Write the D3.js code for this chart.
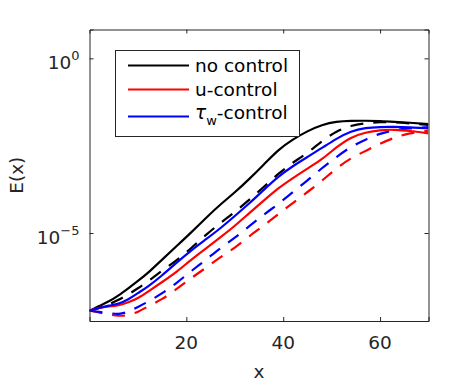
<!DOCTYPE html>
<html>
<head>
<meta charset="utf-8">
<script src="https://cdn.jsdelivr.net/npm/d3@7"></script>
<style>
  body { margin: 0; background: #fff; }
  text { font-family: "DejaVu Sans", sans-serif; }
</style>
</head>
<body>
<div id="chart"></div>
<script>
// x positions shared by every curve
const xs = [0, 2, 4, 6, 8, 10, 12, 15, 18, 21, 24, 27, 30, 33, 36, 39, 42, 45, 48, 51, 54, 57, 60, 63, 66, 70];

// log10 E(x)
const noControl = [-7.233, -7.090, -6.961, -6.789, -6.583, -6.374, -6.160, -5.759, -5.372, -4.986, -4.571, -4.184, -3.841,
  -3.454, -3.039, -2.610, -2.318, -2.080, -1.902, -1.808, -1.788, -1.785, -1.794, -1.817, -1.842, -1.880];
const noControlDash = [-7.233, -7.147, -7.047, -6.918, -6.761, -6.583, -6.394, -6.074, -5.782, -5.435, -5.057, -4.714, -4.407,
  -4.041, -3.683, -3.297, -2.982, -2.710, -2.366, -2.080, -1.922, -1.851, -1.822, -1.831, -1.859, -1.908];
const uControl = [-7.219, -7.133, -7.104, -7.076, -6.990, -6.870, -6.689, -6.403, -6.117, -5.759, -5.444, -5.129, -4.800,
  -4.427, -4.070, -3.712, -3.425, -3.153, -2.896, -2.538, -2.252, -2.117, -2.051, -2.037, -2.074, -2.146];
const uControlDash = [-7.219, -7.276, -7.333, -7.376, -7.362, -7.262, -7.104, -6.904, -6.603, -6.288, -6.002, -5.687, -5.430,
  -5.086, -4.785, -4.456, -4.141, -3.826, -3.511, -3.139, -2.853, -2.652, -2.438, -2.266, -2.137, -2.071];
const tauControl = [-7.219, -7.147, -7.076, -7.033, -6.904, -6.718, -6.546, -6.217, -5.845, -5.495, -5.186, -4.871, -4.513,
  -4.155, -3.763, -3.377, -3.082, -2.824, -2.567, -2.295, -2.080, -1.988, -1.965, -1.960, -1.974, -2.003];
const tauControlDash = [-7.219, -7.262, -7.290, -7.333, -7.262, -7.119, -6.975, -6.732, -6.432, -6.088, -5.773, -5.430, -5.143,
  -4.800, -4.470, -4.170, -3.826, -3.497, -3.139, -2.824, -2.524, -2.323, -2.151, -2.046, -2.008, -1.965];

const xTicks = [20, 40, 60];
const yTicks = [0, -5]; // exponents
const legendLabels = ['no control', 'u-control', '-control'];

const series = [
  { values: noControlDash, color: '#000000', dash: true },
  { values: uControlDash, color: '#ff0000', dash: true },
  { values: tauControlDash, color: '#0000ff', dash: true },
  { values: noControl, color: '#000000', dash: false },
  { values: uControl, color: '#ff0000', dash: false },
  { values: tauControl, color: '#0000ff', dash: false }
];

const W = 472, H = 384;
const margin = { left: 89.5, right: 43.5, top: 29.5, bottom: 63 };
const width = W - margin.left - margin.right;
const height = H - margin.top - margin.bottom;
const axisColor = '#262626';
const fontSize = 18.5;

const svg = d3.select('#chart')
  .append('svg')
  .attr('width', W)
  .attr('height', H);

const group = svg.append('g')
  .attr('transform', 'translate(' + margin.left + ',' + margin.top + ')');

const xScale = d3.scaleLinear().domain([0, 70]).range([0, width]);
const yScale = d3.scaleLog().domain([Math.pow(10, -7.519), Math.pow(10, 0.826)]).range([height, 0]);

svg.append('clipPath').attr('id', 'clip')
  .append('rect').attr('width', width).attr('height', height);

// curves
const line = d3.line()
  .x((d, i) => xScale(xs[i]))
  .y(d => yScale(Math.pow(10, d)))
  .curve(d3.curveBasis);

group.append('g')
  .attr('clip-path', 'url(#clip)')
  .selectAll('path')
  .data(series)
  .enter()
  .append('path')
  .attr('d', d => line(d.values))
  .attr('fill', 'none')
  .attr('stroke', d => d.color)
  .attr('stroke-width', 2.2)
  .attr('stroke-dasharray', d => d.dash ? '13,10' : null);

// axes: ticks inside, mirrored on top/right
const tickLen = 4;
const xAxisB = d3.axisBottom(xScale).tickValues(xTicks).tickSize(-tickLen).tickFormat('');
const xAxisT = d3.axisTop(xScale).tickValues(xTicks).tickSize(-tickLen).tickFormat('');
const yAxisL = d3.axisLeft(yScale).tickValues(yTicks.map(e => Math.pow(10, e))).tickSize(-tickLen).tickFormat('');
const yAxisR = d3.axisRight(yScale).tickValues(yTicks.map(e => Math.pow(10, e))).tickSize(-tickLen).tickFormat('');

[
  [xAxisB, 'translate(0,' + height + ')'],
  [xAxisT, 'translate(0,0)'],
  [yAxisL, 'translate(0,0)'],
  [yAxisR, 'translate(' + width + ',0)']
].forEach(([ax, tr]) => {
  const g = group.append('g').attr('transform', tr).call(ax);
  g.select('.domain').attr('stroke', axisColor).attr('stroke-width', 1);
  g.selectAll('.tick line').attr('stroke', axisColor).attr('stroke-width', 1);
});

// x tick labels
group.selectAll('.xlabel')
  .data(xTicks)
  .enter()
  .append('text')
  .attr('x', d => xScale(d))
  .attr('y', height + 28)
  .attr('text-anchor', 'middle')
  .attr('font-size', fontSize)
  .attr('fill', axisColor)
  .text(d => d);

// y tick labels 10^e
const yLab = group.selectAll('.ylabel')
  .data(yTicks)
  .enter()
  .append('text')
  .attr('x', -10)
  .attr('y', d => yScale(Math.pow(10, d)) + 11)
  .attr('text-anchor', 'end')
  .attr('font-size', fontSize)
  .attr('fill', axisColor);
yLab.append('tspan').text('10');
yLab.append('tspan')
  .attr('dy', -9)
  .attr('font-size', 13)
  .text(d => d === 0 ? '0' : '\u2212' + Math.abs(d));

// axis titles
svg.append('text')
  .attr('x', margin.left + width / 2)
  .attr('y', 378)
  .attr('text-anchor', 'middle')
  .attr('font-size', fontSize)
  .attr('fill', axisColor)
  .text('x');

svg.append('text')
  .attr('transform', 'translate(23,' + (margin.top + height / 2) + ') rotate(-90)')
  .attr('text-anchor', 'middle')
  .attr('font-size', fontSize)
  .attr('fill', axisColor)
  .text('E(x)');

// legend
const legend = svg.append('g');
legend.append('rect')
  .attr('x', 115.5).attr('y', 50.5)
  .attr('width', 184).attr('height', 86)
  .attr('fill', '#fff')
  .attr('stroke', axisColor)
  .attr('stroke-width', 1);

const legendY = [65.5, 89.5, 116.5];
const legendColors = ['#000000', '#ff0000', '#0000ff'];

legendLabels.forEach((lab, i) => {
  legend.append('line')
    .attr('x1', 128).attr('x2', 189)
    .attr('y1', legendY[i]).attr('y2', legendY[i])
    .attr('stroke', legendColors[i])
    .attr('stroke-width', 2.2);
  const t = legend.append('text')
    .attr('x', 195)
    .attr('y', legendY[i] + 6.5)
    .attr('font-size', fontSize)
    .attr('fill', '#000');
  if (i === 2) {
    // tau with subscript w
    t.attr('y', legendY[i] + 2.5);
    t.append('tspan').attr('font-style', 'italic').text('\u03c4');
    t.append('tspan').attr('font-size', 13).attr('dy', 6).text('w');
    t.append('tspan').attr('dy', -6).text(lab);
  } else {
    t.text(lab);
  }
});
</script>
</body>
</html>
